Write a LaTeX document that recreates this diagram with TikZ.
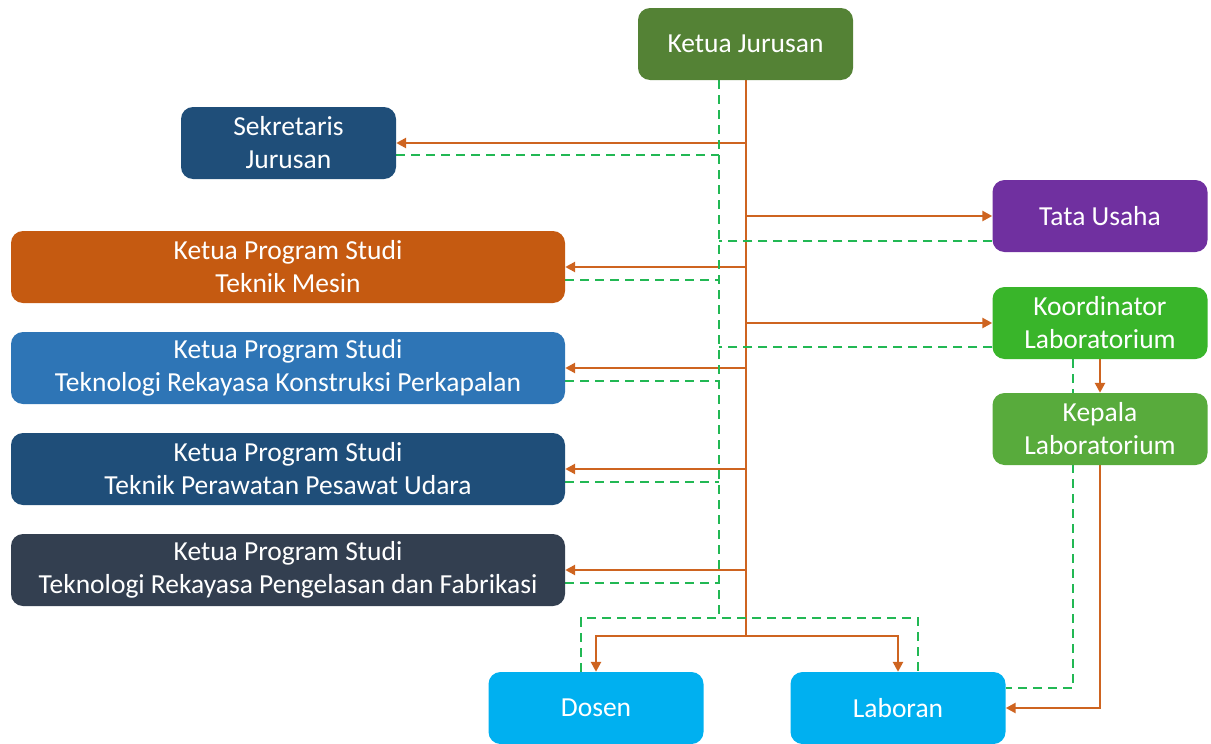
\documentclass[tikz,border=0pt]{standalone}
\usepackage{fontspec}
\setmainfont{Carlito}
\usetikzlibrary{arrows.meta,calc,backgrounds}

\definecolor{cKJ}{HTML}{548235}
\definecolor{cSek}{HTML}{1F4E79}
\definecolor{cTU}{HTML}{7030A0}
\definecolor{cTM}{HTML}{C55A11}
\definecolor{cKoord}{RGB}{57,181,42}
\definecolor{cTRKP}{HTML}{2E75B6}
\definecolor{cKep}{RGB}{88,171,60}
\definecolor{cTPPU}{HTML}{1F4E79}
\definecolor{cTRPF}{HTML}{333F50}
\definecolor{cStaff}{HTML}{00B0F0}
\definecolor{cLine}{RGB}{206,100,32}
\definecolor{cDash}{RGB}{34,184,84}

\tikzset{
  box/.style={rounded corners=12pt, inner sep=0pt, text=white, align=center,
    font=\fontsize{27.5}{33}\selectfont},
  smallbox/.style={box, minimum width=215pt, minimum height=72pt},
  widebox/.style={box, minimum width=554pt, minimum height=72pt},
  oline/.style={draw=cLine, line width=2.8pt},
  oarr/.style={oline, -{Triangle[length=10pt,width=10pt]}},
  gdash/.style={draw=cDash, line width=2.8pt, dash pattern=on 9pt off 6pt}
}

\begin{document}
\begin{tikzpicture}[x=1pt,y=-1pt]
\useasboundingbox (0,0) rectangle (1211,744);

% organisation units
\node[smallbox, fill=cKJ]    (kj)    at (745.5,44) {Ketua Jurusan};
\node[smallbox, fill=cSek]   (sek)   at (288.5,143) {Sekretaris\\Jurusan};
\node[smallbox, fill=cTU]    (tu)    at (1100,216) {Tata Usaha};
\node[widebox,  fill=cTM]    (tm)    at (288,267) {Ketua Program Studi\\Teknik Mesin};
\node[smallbox, fill=cKoord] (koord) at (1100,323) {Koordinator\\Laboratorium};
\node[widebox,  fill=cTRKP]  (trkp)  at (288,368) {Ketua Program Studi\\Teknologi Rekayasa Konstruksi Perkapalan};
\node[smallbox, fill=cKep]   (kep)   at (1100,429) {Kepala\\Laboratorium};
\node[widebox,  fill=cTPPU]  (tppu)  at (288,469) {Ketua Program Studi\\Teknik Perawatan Pesawat Udara};
\node[widebox,  fill=cTRPF]  (trpf)  at (288,570) {Ketua Program Studi\\Teknologi Rekayasa Pengelasan dan Fabrikasi};
\node[smallbox, fill=cStaff] (dos)   at (596,708) {Dosen};
\node[smallbox, fill=cStaff] (lab)   at (898,708) {Laboran};

% spine of the command line and of the coordination line
\coordinate (sp) at (746,80);
\coordinate (sb) at (746,636);
\coordinate (gp) at (719,80);
\coordinate (gb) at (719,618);

% attachment points of the coordination lines
\coordinate (s1) at ([yshift=-12pt]sek.east);
\coordinate (t1) at ([yshift=-25pt]tu.west);
\coordinate (m1) at ([yshift=-13pt]tm.east);
\coordinate (k1) at ([yshift=-24pt]koord.west);
\coordinate (r1) at ([yshift=-13pt]trkp.east);
\coordinate (p1) at ([yshift=-13pt]tppu.east);
\coordinate (f1) at ([yshift=-13pt]trpf.east);
\coordinate (gl) at ([xshift=-15pt]dos.north);
\coordinate (gr) at ([xshift=20pt]lab.north);
\coordinate (kd) at ([xshift=-27pt]koord.south);
\coordinate (ld) at ([yshift=20pt]lab.east);

\begin{scope}[on background layer]
% command lines
\draw[oline] (sp) -- (sb);
\draw[oarr] (sek.east -| sp) -- (sek.east);
\draw[oarr] (tu.west -| sp) -- (tu.west);
\draw[oarr] (tm.east -| sp) -- (tm.east);
\draw[oarr] (koord.west -| sp) -- (koord.west);
\draw[oarr] (trkp.east -| sp) -- (trkp.east);
\draw[oarr] (tppu.east -| sp) -- (tppu.east);
\draw[oarr] (trpf.east -| sp) -- (trpf.east);
\draw[oarr] (sb) -| (dos.north);
\draw[oarr] (sb) -| (lab.north);
\draw[oarr] (koord.south) -- (kep.north);
\draw[oarr] (kep.south) |- (lab.east);

% coordination lines
\draw[gdash] (gp) -- (gb);
\draw[gdash] (s1) -- (s1 -| gp);
\draw[gdash] (t1) -- (t1 -| gp);
\draw[gdash] (m1) -- (m1 -| gp);
\draw[gdash] (k1) -- (k1 -| gp);
\draw[gdash] (r1) -- (r1 -| gp);
\draw[gdash] (p1) -- (p1 -| gp);
\draw[gdash] (f1) -- (f1 -| gp);
\draw[gdash] (gl) |- (gb) -| (gr);
\draw[gdash] (kd) |- (ld);
\end{scope}
\end{tikzpicture}
\end{document}
